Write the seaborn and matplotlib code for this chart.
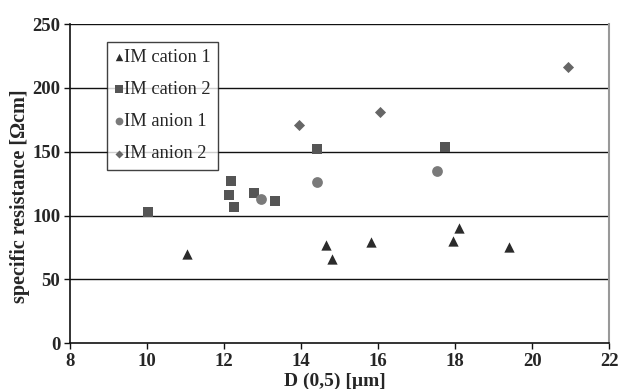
import matplotlib
matplotlib.use("Agg")
import matplotlib.pyplot as plt
import seaborn as sns
import pandas as pd

# Measured particle size D(0,5) [µm] and specific resistance [Ωcm] per membrane type
cation1_d = [11.05, 14.64, 14.80, 15.82, 17.94, 18.11, 19.41]
cation1_r = [70, 77, 66, 79, 80, 90, 75]

cation2_d = [10.02, 12.12, 12.27, 12.17, 12.78, 13.33, 14.41, 17.74]
cation2_r = [103, 116, 107, 127, 118, 111, 152, 154]

anion1_d = [12.95, 14.41, 17.53]
anion1_r = [113, 126, 135]

anion2_d = [13.96, 16.04, 20.93]
anion2_r = [171, 181, 216]

series_names = ["IM cation 1", "IM cation 2", "IM anion 1", "IM anion 2"]
x_ticks = [8, 10, 12, 14, 16, 18, 20, 22]
y_ticks = [0, 50, 100, 150, 200, 250]

frames = []
for name, d, r in zip(series_names,
                      [cation1_d, cation2_d, anion1_d, anion2_d],
                      [cation1_r, cation2_r, anion1_r, anion2_r]):
    frames.append(pd.DataFrame({"D": d, "R": r, "series": name}))
df = pd.concat(frames, ignore_index=True)

sns.set_theme(style="white")
plt.rcParams["font.family"] = ["Liberation Serif", "DejaVu Serif"]

fig = plt.figure(figsize=(6.19, 3.89), dpi=100)
ax = fig.add_axes([0.113, 0.118, 0.871, 0.820])

colors = {"IM cation 1": "#2b2b2b", "IM cation 2": "#555555",
          "IM anion 1": "#7a7a7a", "IM anion 2": "#666666"}
markers = {"IM cation 1": "^", "IM cation 2": "s",
           "IM anion 1": "o", "IM anion 2": "D"}
sizes = {"IM cation 1": 55, "IM cation 2": 60, "IM anion 1": 60, "IM anion 2": 32}

for name in series_names:
    sub = df[df["series"] == name]
    sns.scatterplot(data=sub, x="D", y="R", ax=ax, color=colors[name],
                    marker=markers[name], s=sizes[name], linewidth=0,
                    label=name, zorder=3)

ax.set_xlim(8, 22)
ax.set_ylim(0, 250)
ax.set_xticks(x_ticks)
ax.set_yticks(y_ticks)
ax.set_xticklabels([str(t) for t in x_ticks], fontweight="bold", fontsize=13.5)
ax.set_yticklabels([str(t) for t in y_ticks], fontweight="bold", fontsize=13.5)

for y in y_ticks[1:]:
    ax.axhline(y, color="#111111", linewidth=1.0, zorder=1)

for side in ["left", "bottom"]:
    ax.spines[side].set_color("#111111")
    ax.spines[side].set_linewidth(1.2)
ax.spines["top"].set_visible(False)
ax.spines["right"].set_color("#999999")
ax.spines["right"].set_linewidth(1.5)

ax.tick_params(axis="both", direction="out", length=4, width=1,
               color="#111111", pad=3, bottom=True, left=True)

ax.set_xlabel("D (0,5) [µm]", fontweight="bold", fontsize=14)
ax.set_ylabel("specific resistance [Ωcm]", fontweight="bold", fontsize=14.5)
ax.xaxis.set_label_coords(0.4917, -0.094)
ax.yaxis.set_label_coords(-0.074, 0.462)

leg = ax.legend(loc="upper left", bbox_to_anchor=(0.068, 0.945),
                frameon=True, fancybox=False, fontsize=13.3,
                handletextpad=0.0, handlelength=0.55, borderpad=0.4,
                labelspacing=0.82, markerscale=0.72, borderaxespad=0)
leg.get_frame().set_edgecolor("#111111")
leg.get_frame().set_linewidth(1.0)
leg.get_frame().set_facecolor("white")
leg.set_zorder(5)

fig.savefig("out.png", dpi=100)
